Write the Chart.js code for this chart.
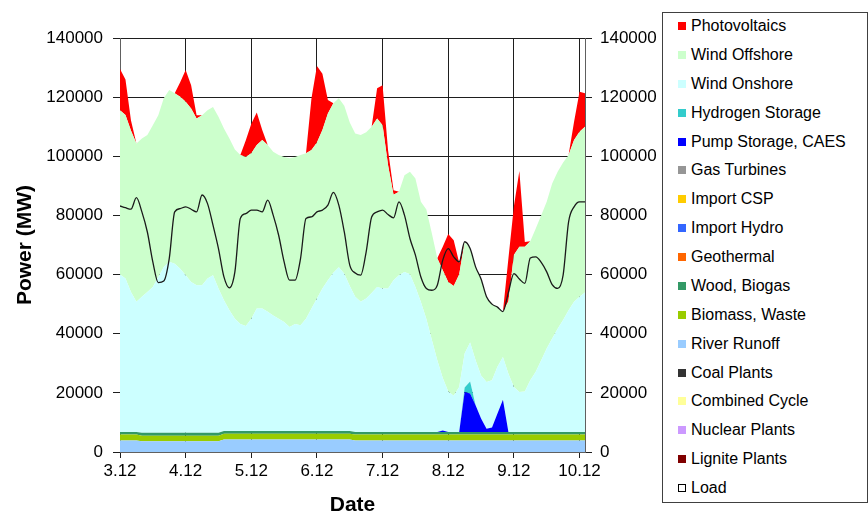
<!DOCTYPE html>
<html>
<head>
<meta charset="utf-8">
<script src="https://cdn.jsdelivr.net/npm/chart.js@4.4.0/dist/chart.umd.min.js"></script>
<style>
  body { margin: 0; background: #fff; }
  #wrapper { position: relative; width: 868px; height: 519px; }
  #legenda {
    position: absolute; left: 662px; top: 12px; width: 204px; height: 489px;
    border: 1px solid #404040; background: #fff;
    font-family: 'Liberation Sans', Arial, sans-serif; font-size: 16px; color: #000;
  }
  .item { position: absolute; left: 15px; height: 20px; display: flex; align-items: center; white-space: nowrap; }
  .marcador { width: 8px; height: 8px; margin-right: 5px; box-sizing: border-box; }
</style>
</head>
<body>
<div id="wrapper">
  <canvas id="grafico" width="868" height="519"></canvas>
  <div id="legenda"></div>
</div>
<script>
// hours since the 3.12 tick, every 2 h
const horas = [
  0, 2, 4, 6, 8, 10, 12, 14, 16, 18,
  20, 22, 24, 26, 28, 30, 32, 34, 36, 38,
  40, 42, 44, 46, 48, 50, 52, 54, 56, 58,
  60, 62, 64, 66, 68, 70, 72, 74, 76, 78,
  80, 82, 84, 86, 88, 90, 92, 94, 96, 98,
  100, 102, 104, 106, 108, 110, 112, 114, 116, 118,
  120, 122, 124, 126, 128, 130, 132, 134, 136, 138,
  140, 142, 144, 146, 148, 150, 152, 154, 156, 158,
  160, 162, 164, 166, 168, 170
];
const dias = ['3.12', '4.12', '5.12', '6.12', '7.12', '8.12', '9.12', '10.12'];
const yTicks = [0, 20000, 40000, 60000, 80000, 100000, 120000, 140000];

// MW
const riverRunoff = [
  3900, 3900, 3900, 3900, 3600, 3600, 3600, 3600, 3600, 3600,
  3600, 3600, 3600, 3600, 3600, 3600, 3600, 3600, 3600, 4200,
  4200, 4200, 4200, 4200, 4200, 4200, 4200, 4200, 4200, 4200,
  4200, 4200, 4200, 4200, 4200, 4200, 4200, 4200, 4200, 4200,
  4200, 4200, 4200, 3900, 3900, 3900, 3900, 3900, 3900, 3900,
  3900, 3900, 3900, 3900, 3900, 3900, 3900, 3900, 3900, 3900,
  3900, 3900, 3900, 3900, 3900, 3900, 3900, 3900, 3900, 3900,
  3900, 3900, 3900, 3900, 3900, 3900, 3900, 3900, 3900, 3900,
  3900, 3900, 3900, 3900, 3900, 3900
];
const biomassWaste = [
  2000, 2000, 2000, 2000, 1900, 1900, 1900, 1900, 1900, 1900,
  1900, 1900, 1900, 1900, 1900, 1900, 1900, 1900, 1900, 2000,
  2000, 2000, 2000, 2000, 2000, 2000, 2000, 2000, 2000, 2000,
  2000, 2000, 2000, 2000, 2000, 2000, 2000, 2000, 2000, 2000,
  2000, 2000, 2000, 2000, 2000, 2000, 2000, 2000, 2000, 2000,
  2000, 2000, 2000, 2000, 2000, 2000, 2000, 2000, 2000, 2000,
  2000, 2000, 2000, 2000, 2000, 2000, 2000, 2000, 2000, 2000,
  2000, 2000, 2000, 2000, 2000, 2000, 2000, 2000, 2000, 2000,
  2000, 2000, 2000, 2000, 2000, 2000
];
const woodBiogas = [
  900, 900, 900, 900, 1000, 1000, 1000, 1000, 1000, 1000,
  1000, 1000, 1000, 1000, 1000, 1000, 1000, 1000, 1000, 900,
  900, 900, 900, 900, 900, 900, 900, 900, 900, 900,
  900, 900, 900, 900, 900, 900, 900, 900, 900, 900,
  900, 900, 900, 900, 900, 900, 900, 900, 900, 900,
  900, 900, 900, 900, 900, 900, 900, 900, 900, 900,
  900, 900, 900, 900, 900, 900, 900, 900, 900, 900,
  900, 900, 900, 900, 900, 900, 900, 900, 900, 900,
  900, 900, 900, 900, 900, 900
];
const pumpStorage = [
  0, 0, 0, 0, 0, 0, 0, 0, 0, 0,
  0, 0, 0, 0, 0, 0, 0, 0, 0, 0,
  0, 0, 0, 0, 0, 0, 0, 0, 0, 0,
  0, 0, 0, 0, 0, 0, 0, 0, 0, 0,
  0, 0, 0, 0, 0, 0, 0, 0, 0, 0,
  0, 0, 0, 0, 0, 0, 0, 0, 0, 500,
  0, 0, 0, 13500, 13000, 9000, 4500, 1100, 1500, 6200,
  10900, 0, 0, 0, 0, 0, 0, 0, 0, 0,
  0, 0, 0, 0, 0, 0
];
const hydrogenStorage = [
  0, 0, 0, 0, 0, 0, 0, 0, 0, 0,
  0, 0, 0, 0, 0, 0, 0, 0, 0, 0,
  0, 0, 0, 0, 0, 0, 0, 0, 0, 0,
  0, 0, 0, 0, 0, 0, 0, 0, 0, 0,
  0, 0, 0, 0, 0, 0, 0, 0, 0, 0,
  0, 0, 0, 0, 0, 0, 0, 0, 0, 0,
  0, 0, 0, 1500, 4000, 0, 0, 0, 0, 0,
  0, 0, 0, 0, 0, 0, 0, 0, 0, 0,
  0, 0, 0, 0, 0, 0
];
const windOnshore = [
  53200, 51900, 47300, 44000, 46000, 47600, 49300, 52700, 56100, 57800,
  57200, 55500, 53300, 51000, 49900, 49900, 52200, 53300, 48800, 44200,
  40800, 38000, 36200, 35500, 38000, 41400, 41400, 40300, 39100, 38000,
  36900, 35200, 36200, 35800, 38000, 41400, 44800, 48200, 51000, 53500,
  55400, 53200, 49000, 45700, 44000, 45100, 47000, 49000, 48500, 48500,
  51300, 53000, 54100, 53300, 49000, 43900, 38200, 31200, 24200, 17700,
  13700, 12200, 15200, 11500, 13200, 15200, 14600, 15800, 16000, 15800,
  14400, 19700, 15200, 13500, 13700, 17500, 20300, 24200, 28200, 31600,
  34900, 37800, 41100, 44000, 45700, 47100
];
const windOffshore = [
  55600, 55300, 54600, 53500, 53500, 53100, 54700, 54700, 57000, 58100,
  57600, 58100, 58600, 58700, 56400, 57500, 56900, 56900, 58100, 58100,
  58100, 57200, 57100, 57200, 55900, 55300, 57000, 56400, 55300, 55300,
  55800, 57000, 56500, 57500, 55900, 53600, 52800, 53600, 56400, 57300,
  57100, 56800, 55300, 55200, 56400, 56200, 56200, 57000, 55200, 41700,
  28900, 28200, 32700, 34700, 36700, 33900, 37000, 36000, 34500, 36500,
  37000, 37100, 38000, 37700, 31800, 31600, 32600, 28800, 25700, 20200,
  15400, 24500, 44600, 49100, 48900, 47000, 48500, 49100, 49600, 52400,
  53100, 53300, 52500, 54700, 55800, 56100
];
const photovoltaics = [
  13900, 12000, 3500, 0, 0, 0, 0, 0, 0, 0,
  0, 4900, 10800, 7800, 1100, 0, 0, 0, 0, 0,
  0, 0, 0, 5600, 10000, 11000, 3400, 0, 0, 0,
  0, 0, 0, 0, 0, 17500, 25800, 19000, 4500, 0,
  0, 0, 0, 0, 0, 0, 0, 10200, 13500, 5000,
  1500, 0, 0, 0, 0, 0, 0, 0, 0, 7900,
  16200, 15500, 4000, 0, 0, 0, 0, 0, 0, 0,
  0, 14400, 16400, 25600, 1600, 0, 0, 0, 0, 0,
  0, 0, 0, 6200, 13500, 11300
];
const load = [
  83200, 82600, 82100, 86000, 81200, 74400, 64300, 57300, 57800, 65400,
  81200, 82300, 82900, 82100, 81200, 86900, 84000, 76700, 68800, 59200,
  55500, 60900, 79000, 80600, 81800, 81800, 81200, 85200, 80100, 73300,
  64300, 58100, 58100, 65400, 79000, 79500, 81200, 81800, 83500, 87800,
  83500, 74400, 63200, 60500, 59800, 67700, 79500, 81200, 81800, 80300,
  79200, 84600, 80100, 72200, 66600, 59200, 55300, 54700, 56400, 64900,
  68800, 66000, 64300, 71100, 68800, 62600, 58500, 52500, 50000, 49000,
  47500, 54000, 60300, 58500, 57000, 65600, 66000, 64100, 60900, 56600,
  55300, 59800, 77800, 82900, 84600, 84600
];

// bottom of the stack first; empty ones only show in the legend
const series = [
  { label: 'Lignite Plants', cor: '#800000', dados: [] },
  { label: 'Nuclear Plants', cor: '#CC99FF', dados: [] },
  { label: 'Combined Cycle', cor: '#FFFF99', dados: [] },
  { label: 'Coal Plants', cor: '#333333', dados: [] },
  { label: 'River Runoff', cor: '#99CCFF', dados: riverRunoff },
  { label: 'Biomass, Waste', cor: '#99CC00', dados: biomassWaste },
  { label: 'Wood, Biogas', cor: '#339966', dados: woodBiogas },
  { label: 'Geothermal', cor: '#FF6600', dados: [] },
  { label: 'Import Hydro', cor: '#3366FF', dados: [] },
  { label: 'Import CSP', cor: '#FFCC00', dados: [] },
  { label: 'Gas Turbines', cor: '#969696', dados: [] },
  { label: 'Pump Storage, CAES', cor: '#0000FF', dados: pumpStorage },
  { label: 'Hydrogen Storage', cor: '#33CCCC', dados: hydrogenStorage },
  { label: 'Wind Onshore', cor: '#CCFFFF', dados: windOnshore },
  { label: 'Wind Offshore', cor: '#CCFFCC', dados: windOffshore },
  { label: 'Photovoltaics', cor: '#FF0000', dados: photovoltaics }
];

const fonte = "'Liberation Sans', Arial, sans-serif";

function montarDatasets() {
  var datasets = [];
  var anterior = 'origin';
  series.forEach((s, i) => {
    datasets.push({
      label: s.label,
      data: s.dados,
      backgroundColor: s.cor,
      borderColor: s.cor,
      borderWidth: 0,
      pointRadius: 0,
      tension: 0,
      fill: s.dados.length ? anterior : false,
    });
    if (s.dados.length) anterior = i;
  });

  datasets.push({
    label: 'Load',
    data: load,
    stack: 'load',
    backgroundColor: '#ffffff',
    borderColor: '#1a1a1a',
    borderWidth: 1.3,
    pointRadius: 0,
    fill: false,
    cubicInterpolationMode: 'monotone',
    order: -1,
  });
  return datasets;
}

function eixoY(posicao) {
  return {
    position: posicao,
    min: 0,
    max: 140000,
    afterBuildTicks: (escala) => { escala.ticks = yTicks.map(v => ({ value: v })) },
    ticks: {
      padding: posicao == 'left' ? 10 : 8,
      color: '#000',
      font: { family: fonte, size: 17 },
      callback: (v) => String(v),
    },
    grid: {
      color: '#1e1e1e',
      lineWidth: 1,
      tickLength: 7,
      drawOnChartArea: posicao == 'left',
    },
    border: { color: '#606060', width: 1 },
  };
}

const ctx = document.getElementById('grafico');

var escalaY = eixoY('left');
escalaY.stacked = true;
escalaY.title = {
  display: true,
  text: 'Power (MW)',
  color: '#000',
  font: { family: fonte, size: 21, weight: 'bold' },
  padding: { top: 13, bottom: 0 },
};
escalaY.afterFit = (s) => { s.width = 120 };

var escalaY2 = eixoY('right');
escalaY2.afterFit = (s) => { s.width = 80 };

const grafico = new Chart(ctx, {
  type: 'line',
  data: { labels: horas, datasets: montarDatasets() },
  options: {
    responsive: false,
    animation: false,
    devicePixelRatio: 1,
    layout: { padding: { left: 0, top: 38, right: 203, bottom: 0 } },
    plugins: { legend: { display: false }, tooltip: { enabled: false } },
    scales: {
      x: {
        type: 'linear',
        min: 0,
        max: 170,
        afterBuildTicks: (escala) => { escala.ticks = dias.map((d, i) => ({ value: i * 24 })) },
        ticks: {
          autoSkip: false,
          maxRotation: 0,
          padding: 3,
          color: '#000',
          font: { family: fonte, size: 17 },
          callback: (v) => dias[Math.round(v / 24)],
        },
        grid: { color: '#1e1e1e', lineWidth: 1, tickLength: 6 },
        border: { color: '#606060', width: 1 },
        title: {
          display: true,
          text: 'Date',
          color: '#000',
          font: { family: fonte, size: 21, weight: 'bold' },
          padding: { top: 0, bottom: 1 },
        },
        afterFit: (s) => { s.height = 67 },
      },
      y: escalaY,
      y2: escalaY2,
    },
  },
});

// legend box on the right, same order as the original
function renderLegenda() {
  const div = document.getElementById('legenda');
  const ds = grafico.data.datasets;
  const areas = ds.slice(0, ds.length - 1).reverse();
  const itens = areas.concat([ds[ds.length - 1]]);

  itens.forEach((d, i) => {
    const item = document.createElement('div');
    item.classList.add('item');
    item.style.top = (3 + 28.875 * i) + 'px';

    const marcador = document.createElement('span');
    marcador.classList.add('marcador');
    if (d.label == 'Load') {
      marcador.style.border = '1px solid #000';
      marcador.style.background = '#fff';
    } else {
      marcador.style.background = d.backgroundColor;
    }
    item.appendChild(marcador);

    const texto = document.createElement('span');
    texto.innerText = d.label;
    item.appendChild(texto);

    div.appendChild(item);
  });
}

renderLegenda();
</script>
</body>
</html>
